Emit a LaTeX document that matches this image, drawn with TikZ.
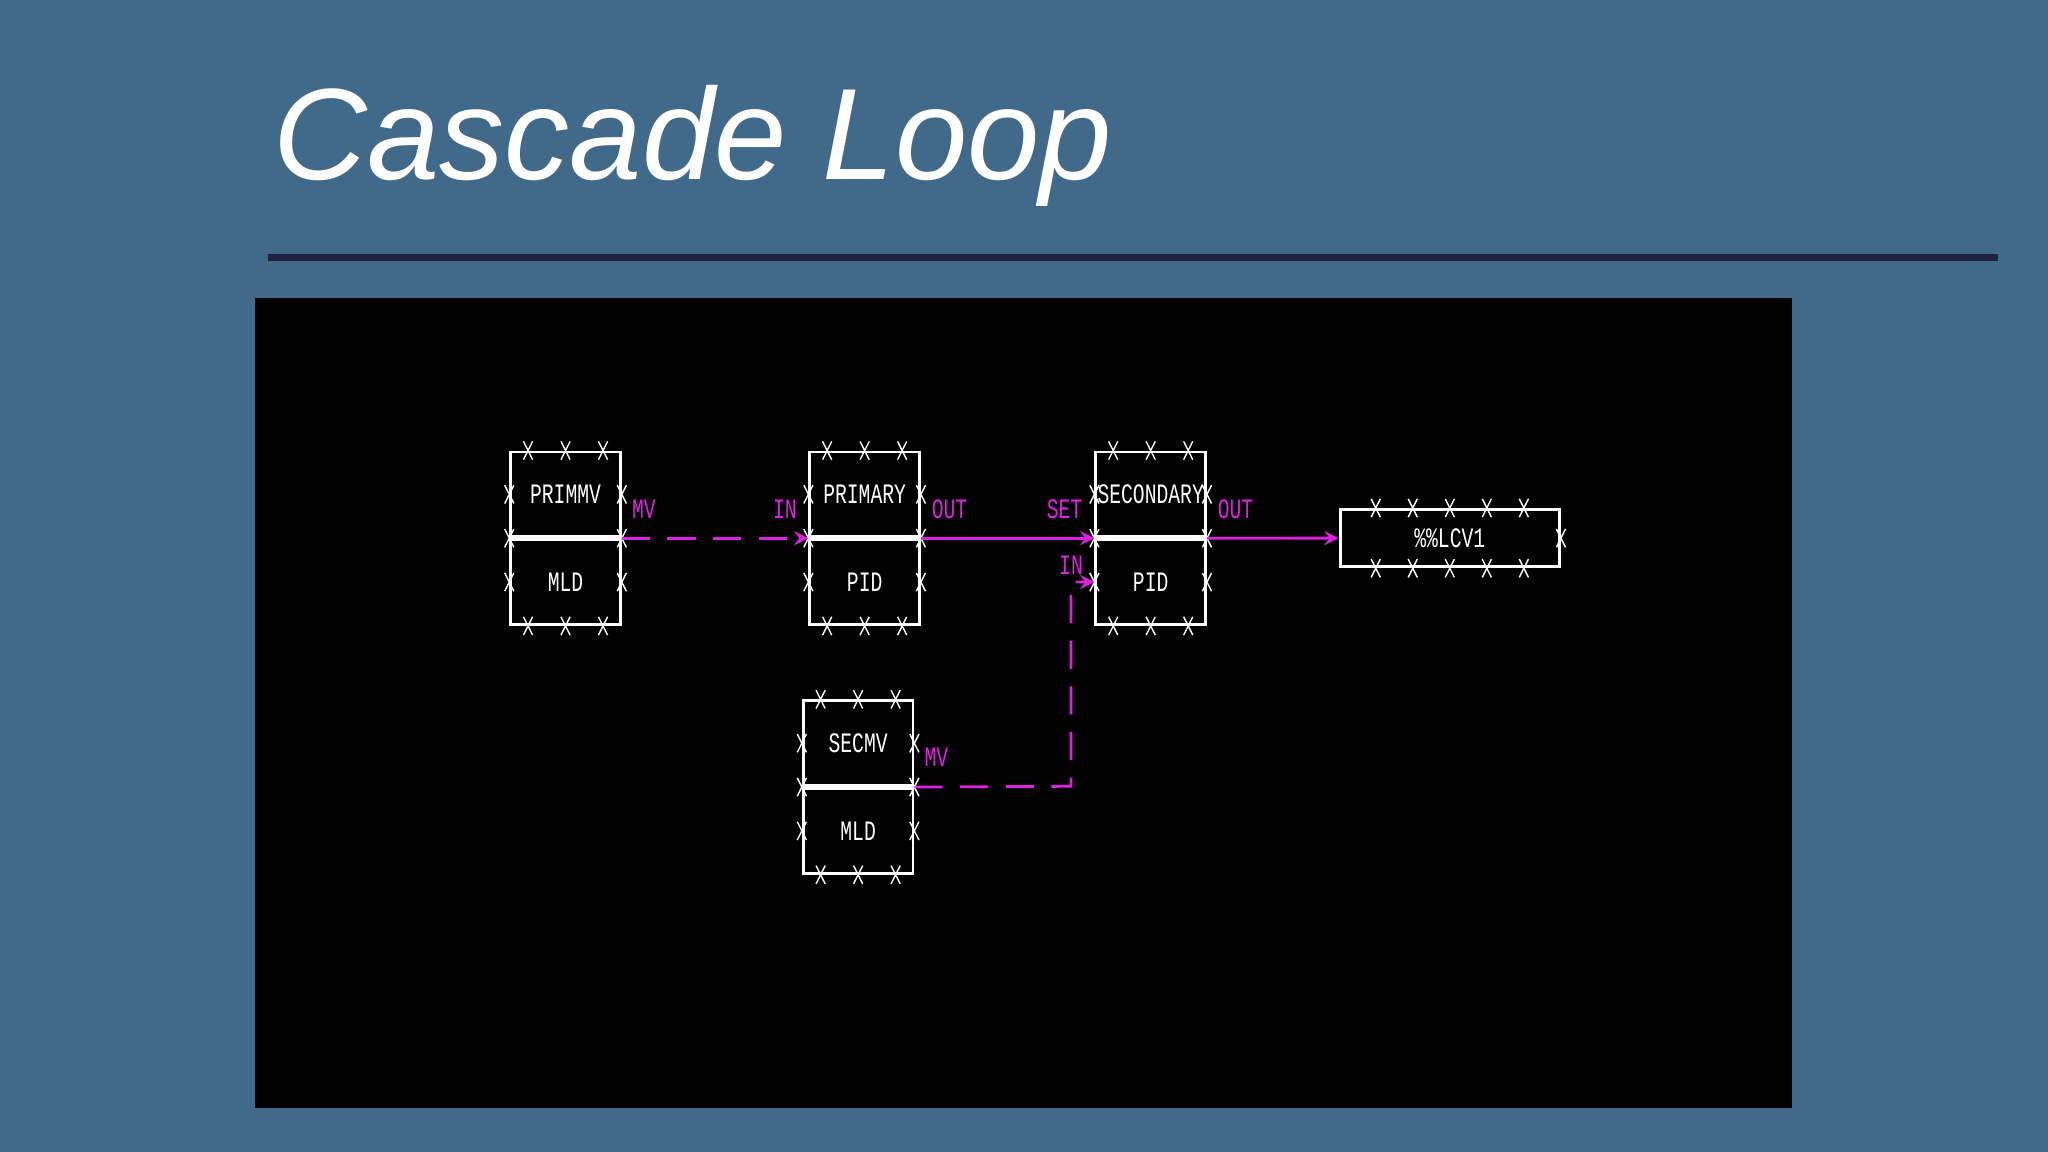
\documentclass[tikz,border=0pt]{standalone}
\usepackage{fontspec}
\setmainfont{Liberation Sans}
\newfontfamily\pixfont{Liberation Mono}
\usetikzlibrary{arrows, positioning, calc}
\definecolor{slate}{HTML}{41698A}
\definecolor{navy}{HTML}{1E2340}
\definecolor{pink}{HTML}{E020E0}

% small crossing tick on a box edge
\newcommand{\tick}[1]{%
  \draw[white, thin] ($(#1)+(-3.5,-7)$) -- ($(#1)+(3.5,7)$)
        ($(#1)+(3.5,-7)$) -- ($(#1)+(-3.5,7)$);}
% narrow pixel text
\newcommand{\px}[1]{\scalebox{0.7}[1]{#1}}

\begin{document}
\begin{tikzpicture}[
        x=0.013061cm, y=-0.013061cm,
        half/.style={rectangle, draw=white, thick, minimum width=1.097cm, minimum height=0.849cm,
                     inner sep=0pt, text=white, font=\pixfont\fontsize{8}{9}\selectfont},
        lbl/.style={text=pink, font=\pixfont\fontsize{8}{9}\selectfont, inner sep=1pt},
        link/.style={pink, thick, ->, >=stealth},
        dlink/.style={link, dashed, dash pattern=on 8pt off 5pt}
    ]
        % background
        \fill[slate] (0,0) rectangle (1568,882);
        \node[text=white, font=\itshape\fontsize{37}{40}\selectfont, anchor=west] (title) at (200,112) {Cascade Loop};
        \draw[navy, line width=2pt] (205,197) -- (1530,197);
        \fill[black] (195,228) rectangle (1372,848);

        % blocks
        \node[half] (primmv) at (433,378.5) {\px{PRIMMV}};
        \node[half, below=0pt of primmv] (primmvb) {\px{MLD}};
        \node[half] (primary) at (662,378.5) {\px{PRIMARY}};
        \node[half, below=0pt of primary] (primaryb) {\px{PID}};
        \node[half] (secondary) at (881,378.5) {\px{SECONDARY}};
        \node[half, below=0pt of secondary] (secondaryb) {\px{PID}};
        \node[half] (secmv) at (657,569) {\px{SECMV}};
        \node[half, below=0pt of secmv] (secmvb) {\px{MLD}};
        \node[half, minimum width=2.194cm, minimum height=0.575cm] (lcv) at (1110,412) {\px{\%\%LCV1}};

        % ticks
        \foreach \b in {primmv, primary, secondary, secmv} {
            \foreach \f in {0.1667, 0.5, 0.8333} {
                \tick{$(\b.north west)!\f!(\b.north east)$}
                \tick{$(\b b.south west)!\f!(\b b.south east)$}
            }
            \foreach \a in {west, east} {
                \tick{\b.\a}
                \tick{\b.south \a}
                \tick{\b b.\a}
            }
        }
        \foreach \f in {0.1667, 0.3333, 0.5, 0.6667, 0.8333} {
            \tick{$(lcv.north west)!\f!(lcv.north east)$}
            \tick{$(lcv.south west)!\f!(lcv.south east)$}
        }
        \tick{lcv.east}

        % connections
        \draw[dlink] (primmv.south east) -- (primary.south west);
        \draw[link] (primary.south east) -- (secondary.south west);
        \draw[link] (secondary.south east) -- (lcv.west);
        \coordinate (bend) at (820,602);
        \draw[dlink] (secmv.south east) -- (bend) |- (secondaryb.west);

        % port labels
        \node[lbl] (mv1) at (493,390) {\px{MV}};
        \node[lbl] (in1) at (601,390) {\px{IN}};
        \node[lbl] (out1) at (727,390) {\px{OUT}};
        \node[lbl] (set2) at (815,390) {\px{SET}};
        \node[lbl] (in2) at (820,433) {\px{IN}};
        \node[lbl] (out2) at (946,390) {\px{OUT}};
        \node[lbl] (mv2) at (717,580) {\px{MV}};
    \end{tikzpicture}
\end{document}
